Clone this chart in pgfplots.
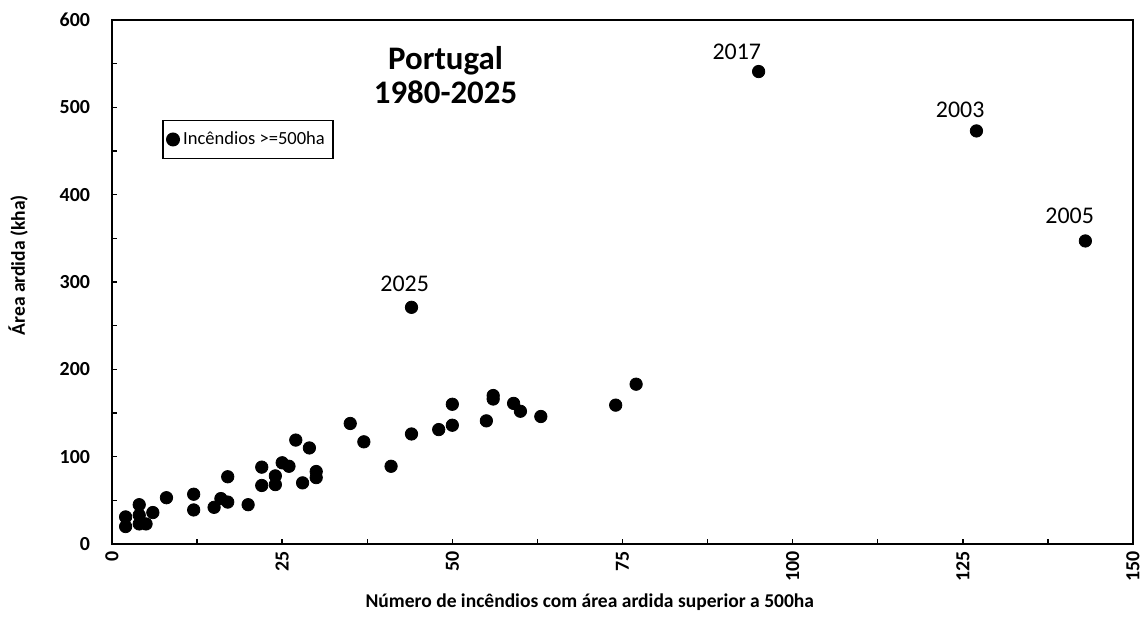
\documentclass[border=0pt]{standalone}
\usepackage{fontspec}
\setmainfont{Carlito}
\usepackage{pgfplots}
\usepackage{pgfplotstable}
\pgfplotsset{compat=1.18}
\pgfplotstableread{
x y
2 20
2 31
4 45
4 33
4 23
5 23
6 36
8 53
12 57
12 39
15 42
16 52
17 48
17 77
20 45
22 88
22 67
24 78
24 68
25 93
26 89
27 119
28 70
29 110
30 83
30 76
35 138
37 117
41 89
44 126
48 131
50 160
50 136
55 141
56 170
56 166
59 161
60 152
63 146
74 159
77 183
44 271
95 541
127 473
143 347
}\fires
\begin{document}
\begin{tikzpicture}
\path[use as bounding box] (-56bp,-43bp) rectangle (516bp,272bp);
\begin{axis}[
  at={(0,0)}, anchor=south west,
  scale only axis, width=510.5bp, height=262bp,
  xmin=0, xmax=150, ymin=0, ymax=600,
  xtick={0,25,...,150}, ytick={0,100,...,600},
  minor x tick num=1, minor y tick num=1,
  tick align=inside, tick pos=left,
  major tick length=2.6bp, minor tick length=2.6bp,
  axis line style={line width=0.8bp},
  every tick/.style={line width=0.7bp, black},
  /pgf/number format/assume math mode=true,
  ticklabel style={font=\fontsize{10}{11}\selectfont\bfseries},
  yticklabel style={xshift=-7.5bp},
  xticklabel style={yshift=-3bp, rotate=90, anchor=east, inner sep=0.5bp},
  xlabel={Número de incêndios com área ardida superior a 500ha},
  ylabel={Área ardida (kha)},
  label style={font=\fontsize{9.8}{12}\selectfont\bfseries},
  xlabel style={at={(axis description cs:0.468,-0.111)}, anchor=center},
  ylabel style={at={(axis description cs:-0.092,0.532)}, anchor=center},
  legend style={at={(axis description cs:0.049,0.81)}, anchor=north west,
    draw=black, line width=0.8bp, font=\fontsize{9.3}{10}\selectfont,
    inner xsep=2bp, inner ysep=3.6bp},
  legend cell align=left,
  clip=false,
]
\addplot[only marks, mark=*, mark size=3.1bp, black, fill=black] table[x=x,y=y] {\fires};
\addlegendentry{Incêndios >=500ha}
\node[font=\fontsize{16.5}{17.5}\selectfont\bfseries, align=center] at (axis cs:49,537) {Portugal\\1980-2025};
\node[font=\fontsize{12}{13}\selectfont] at (axis cs:91.8,564) {2017};
\node[font=\fontsize{12}{13}\selectfont] at (axis cs:124.6,496.6) {2003};
\node[font=\fontsize{12}{13}\selectfont] at (axis cs:140.7,376.1) {2005};
\node[font=\fontsize{12}{13}\selectfont] at (axis cs:43.0,298.2) {2025};
\end{axis}
\end{tikzpicture}
\end{document}
